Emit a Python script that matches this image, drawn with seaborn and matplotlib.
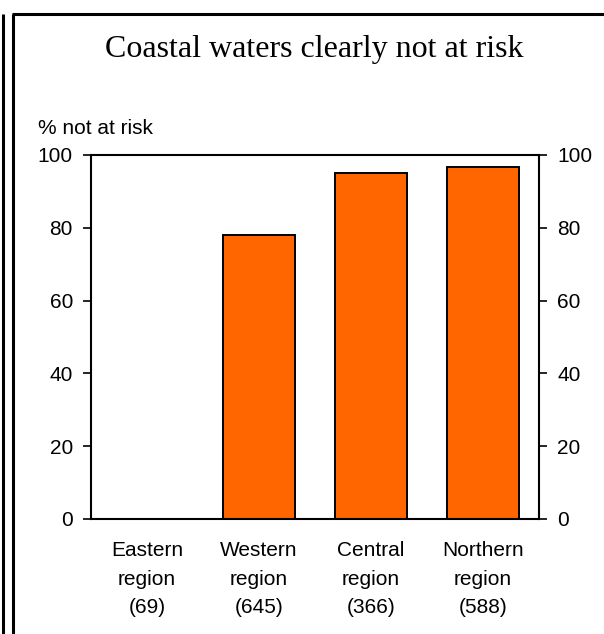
import matplotlib
matplotlib.use("Agg")
import matplotlib.pyplot as plt
import seaborn as sns
import pandas as pd
from matplotlib.lines import Line2D

# Data
regions = ["Eastern\nregion\n(69)", "Western\nregion\n(645)", "Central\nregion\n(366)", "Northern\nregion\n(588)"]
pct_not_at_risk = [0.0, 78.0, 95.0, 96.7]
y_ticks = [0, 20, 40, 60, 80, 100]

df = pd.DataFrame({"region": regions, "pct": pct_not_at_risk})

sns.set_theme(style="white")
plt.rcParams["font.family"] = ["Liberation Sans", "DejaVu Sans"]
plt.rcParams["text.color"] = "black"

fig = plt.figure(figsize=(6.04, 6.34), dpi=100)
ax = fig.add_axes([91 / 604, 115 / 634, 448 / 604, 364 / 634])

sns.barplot(data=df, x="region", y="pct", color="#FF6600", saturation=1,
            width=0.64, edgecolor="black", linewidth=1.4, ax=ax)

ax.set_xlim(-0.5, 3.5)
ax.set_ylim(0, 100)
ax.set_yticks(y_ticks)
ax.set_yticklabels([str(v) for v in y_ticks], fontsize=15, color="black")
ax.set_xticks(range(len(regions)))
ax.set_xticklabels(regions, fontsize=15, color="black", linespacing=1.62)
ax.set_xlabel("")
ax.set_ylabel("")

ax.tick_params(axis="y", direction="out", length=6, width=1.2, pad=7,
               left=True, right=True, labelleft=True, labelright=True, colors="black")
ax.tick_params(axis="x", length=0, pad=16)

for side in ["left", "right", "top", "bottom"]:
    ax.spines[side].set_visible(True)
    ax.spines[side].set_color("black")
    ax.spines[side].set_linewidth(1.5)

# Title and axis caption
fig.text(314 / 604, 1 - 50 / 634, "Coastal waters clearly not at risk",
         ha="center", va="center", fontsize=23, color="black",
         family=["Liberation Serif", "DejaVu Serif"])
fig.text(38 / 604, 1 - 128 / 634, "% not at risk", ha="left", va="center",
         fontsize=15, color="black")

# Frame lines around the panel
W, H = 604, 634
frame = [
    ((2.5, 2.5), (14, 634)),
    ((12.5, 12.5), (13.5, 634)),
    ((12, 604), (13.5, 13.5)),
]
for xs, ys in frame:
    fig.add_artist(Line2D([x / W for x in xs], [1 - y / H for y in ys],
                          color="black", linewidth=2.2, solid_capstyle="butt",
                          transform=fig.transFigure))

fig.savefig("out.png", dpi=100)
